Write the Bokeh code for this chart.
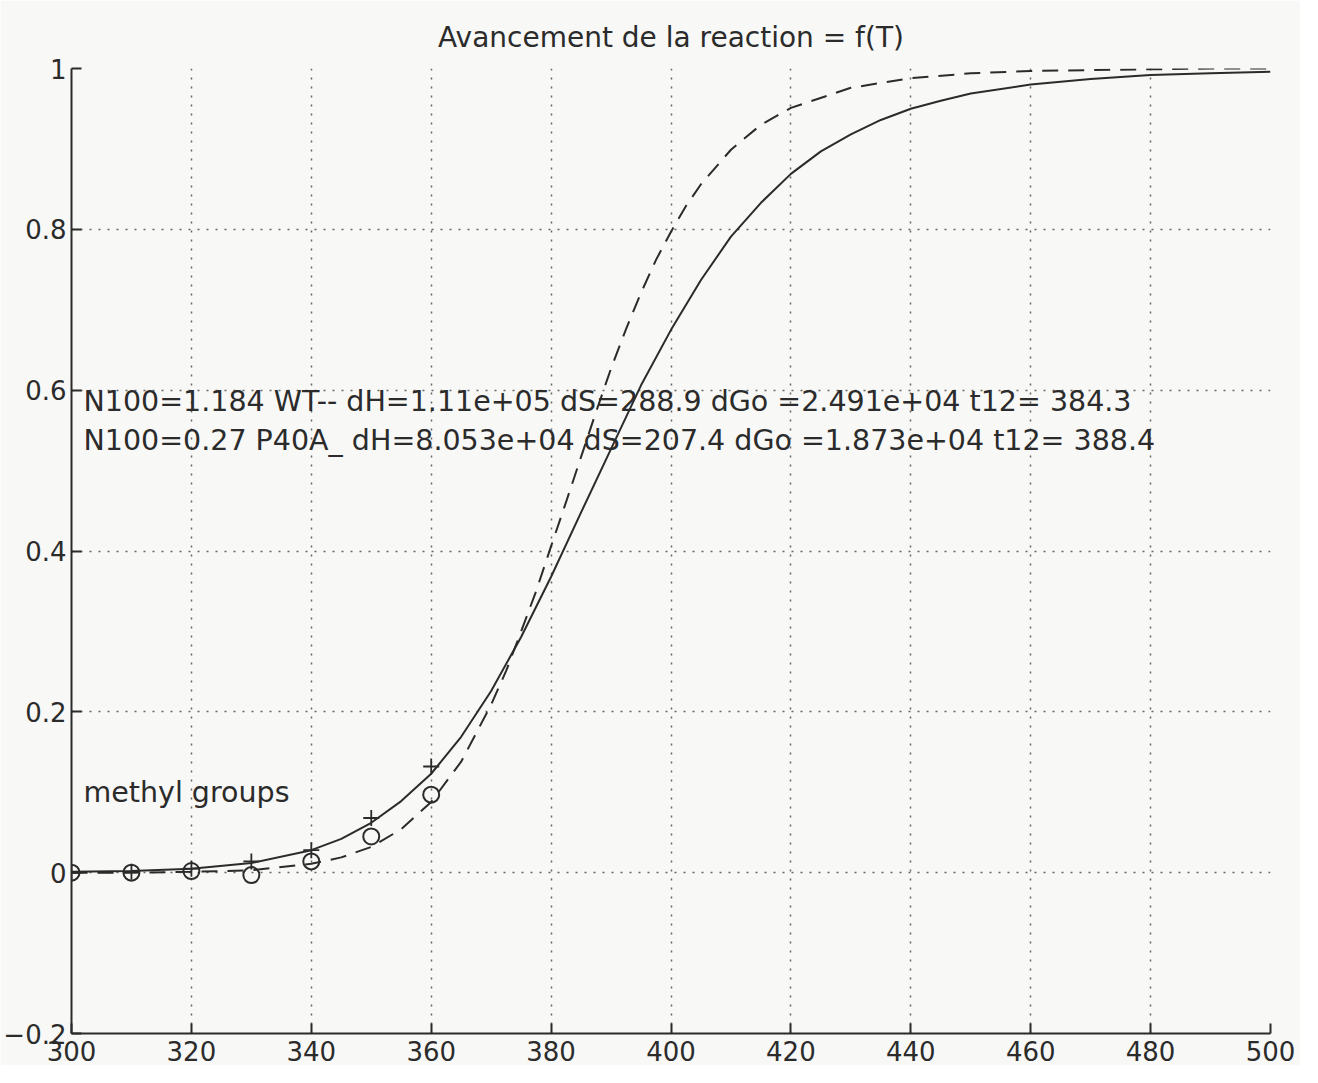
from bokeh.plotting import figure
from bokeh.models import FixedTicker, Label
from bokeh.embed import file_html
from bokeh.resources import INLINE

# ---- data ----
title_text = "Avancement de la reaction = f(T)"
x_ticks = [300, 320, 340, 360, 380, 400, 420, 440, 460, 480, 500]
x_tick_labels = ["300", "320", "340", "360", "380", "400", "420", "440", "460", "480", "500"]
y_ticks = [-0.2, 0, 0.2, 0.4, 0.6, 0.8, 1.0]
y_tick_labels = ["\u22120.2", "0", "0.2", "0.4", "0.6", "0.8", "1"]

# dashed curve (WT)
wt_T = [300, 310, 320, 330, 340, 345, 350, 355, 360, 365, 370, 372.5, 375, 377.5, 380,
        382.5, 385, 387.5, 390, 392.5, 395, 397.5, 400, 402.5, 405, 410, 415, 420,
        430, 440, 450, 460, 470, 480, 490, 500]
wt_f = [0.000, 0.000, 0.001, 0.003, 0.011, 0.019, 0.032, 0.054, 0.088, 0.138, 0.209, 0.251,
        0.300, 0.350, 0.406, 0.461, 0.517, 0.573, 0.627, 0.676, 0.721, 0.762, 0.797, 0.829,
        0.856, 0.899, 0.930, 0.951, 0.976, 0.988, 0.994, 0.997, 0.998, 0.999, 1.000, 1.000]

# solid curve (P40A)
p40_T = [300, 310, 320, 330, 340, 345, 350, 355, 360, 365, 370, 375, 380, 385, 390, 395,
         400, 405, 410, 415, 420, 425, 430, 435, 440, 445, 450, 460, 470, 480, 490, 500]
p40_f = [0.001, 0.002, 0.005, 0.012, 0.028, 0.042, 0.062, 0.089, 0.123, 0.169, 0.226, 0.293,
         0.368, 0.448, 0.527, 0.606, 0.675, 0.737, 0.791, 0.833, 0.869, 0.897, 0.918, 0.936,
         0.950, 0.960, 0.969, 0.980, 0.987, 0.992, 0.994, 0.996]

# measured points
pts_T = [300, 310, 320, 330, 340, 350, 360]
plus_f = [0.000, 0.001, 0.005, 0.014, 0.028, 0.068, 0.132]
circ_f = [0.000, 0.000, 0.002, -0.003, 0.014, 0.045, 0.097]

line1 = "N100=1.184 WT--  dH=1.11e+05 dS=288.9 dGo =2.491e+04 t12= 384.3"
line2 = "N100=0.27 P40A_  dH=8.053e+04 dS=207.4 dGo =1.873e+04 t12= 388.4"
note = "methyl groups"

FONT = "DejaVu Sans"
INK = "#2b2b2b"
BG = "#f8f8f6"

p = figure(width=1300, height=1065, x_range=(300, 500), y_range=(-0.2, 1.0),
           output_backend="svg", toolbar_location=None, title=title_text,
           background_fill_color=BG, border_fill_color=BG,
           min_border_left=71, min_border_right=30, min_border_top=68, min_border_bottom=32)
p.outline_line_color = None

p.title.text_font = FONT
p.title.text_font_size = "28px"
p.title.text_font_style = "normal"
p.title.text_color = INK
p.title.align = "center"
p.title.standoff = 30

p.xaxis.ticker = FixedTicker(ticks=x_ticks)
p.yaxis.ticker = FixedTicker(ticks=y_ticks)
p.xaxis.major_label_overrides = {t: l for t, l in zip(x_ticks, x_tick_labels)}
p.yaxis.major_label_overrides = {t: l for t, l in zip(y_ticks, y_tick_labels)}
for ax in (p.xaxis, p.yaxis):
    ax.major_tick_in = 10
    ax.major_tick_out = 0
    ax.minor_tick_in = 0
    ax.minor_tick_out = 0
    ax.axis_line_color = INK
    ax.axis_line_width = 2
    ax.major_tick_line_color = INK
    ax.major_tick_line_width = 2
    ax.major_label_text_font = FONT
    ax.major_label_text_font_size = "26px"
    ax.major_label_text_color = INK
p.xaxis.major_label_standoff = 7
p.yaxis.major_label_standoff = 5

p.grid.grid_line_color = "#666666"
p.grid.grid_line_dash = "2 7"
p.grid.grid_line_width = 1.5

p.line(wt_T, wt_f, line_color=INK, line_width=2, line_dash="16 10")
p.line(p40_T, p40_f, line_color=INK, line_width=2)

p.scatter(pts_T, plus_f, marker="cross", size=16, line_color=INK, line_width=1.8)
p.scatter(pts_T, circ_f, marker="circle", size=16, line_color=INK, line_width=2,
          fill_color=None)

for txt, yy in ((line1, 0.586), (line2, 0.537), (note, 0.10)):
    p.add_layout(Label(x=302.0, y=yy, text=txt, text_font=FONT, text_font_size="28.5px",
                       text_color=INK, text_baseline="middle", text_align="left"))

open("out.html", "w").write(file_html(p, INLINE))
